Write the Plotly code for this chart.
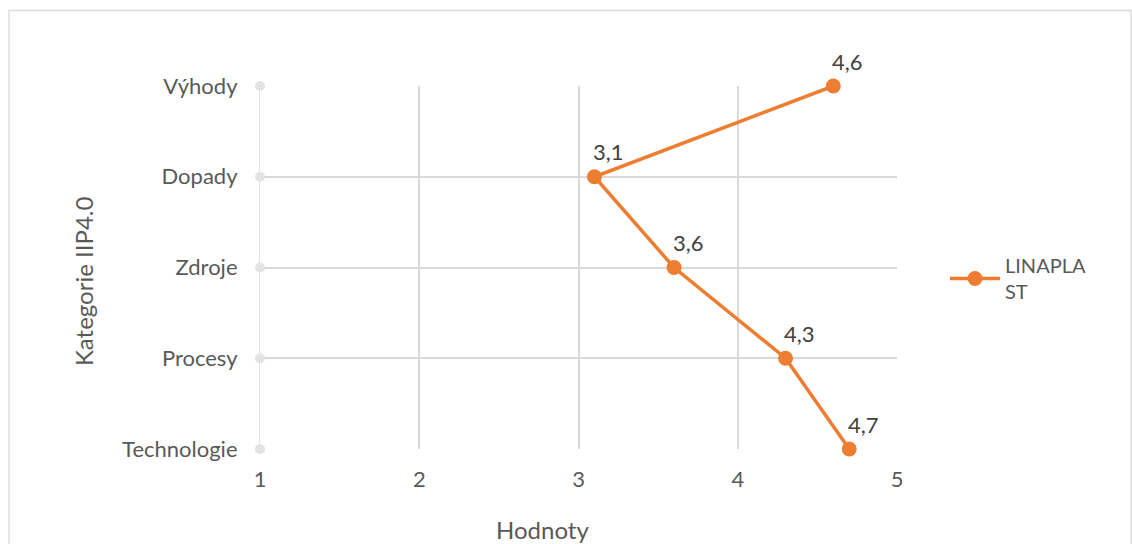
import plotly.graph_objects as go

# Categories listed from bottom to top of the y axis
categories = ["Technologie", "Procesy", "Zdroje", "Dopady", "Výhody"]
values = [4.7, 4.3, 3.6, 3.1, 4.6]
series_name = "LINAPLA<br>ST"
x_ticks = [1, 2, 3, 4, 5]
x_title = "Hodnoty"
y_title = "Kategorie IIP4.0"

W, H = 1132, 544
ml, mr, mt, mb = 260, 235, 86, 95
pw, ph = W - ml - mr, H - mt - mb

orange = "#ED7D31"
text_col = "#595959"
grid_col = "#D9D9D9"
font_family = "Lato, Carlito, Calibri, sans-serif"


def px_x(p):
    return (p - ml) / pw


def px_y(p):
    return (H - mb - p) / ph


fig = go.Figure()

# light dots where each category gridline meets the value axis start
fig.add_trace(go.Scatter(
    x=[x_ticks[0]] * len(categories), y=categories, mode="markers",
    marker=dict(size=10, color="#E3E3E3"), showlegend=False, hoverinfo="skip",
    cliponaxis=False,
))

fig.add_trace(go.Scatter(
    x=values, y=categories, mode="lines+markers", name=series_name,
    line=dict(color=orange, width=3.5),
    marker=dict(size=15, color=orange),
    cliponaxis=False,
))

for v, c in zip(values, categories):
    fig.add_annotation(
        x=v, y=c, text=f"{v:.1f}".replace(".", ","), showarrow=False,
        xshift=14, yshift=25, font=dict(size=22, color="#404040", family=font_family),
    )

# axis titles
fig.add_annotation(
    x=px_x(542), y=px_y(529), xref="paper", yref="paper", text=x_title,
    xanchor="center", yanchor="middle",
    showarrow=False, font=dict(size=24, color=text_col, family=font_family),
)
fig.add_annotation(
    x=px_x(83), y=px_y(282), xref="paper", yref="paper", text=y_title, textangle=-90,
    xanchor="center", yanchor="middle",
    showarrow=False, font=dict(size=24, color=text_col, family=font_family),
)

# outer chart border
fig.add_shape(type="rect", xref="paper", yref="paper",
              x0=px_x(9), x1=px_x(1131), y0=px_y(560), y1=px_y(10.5),
              line=dict(color="#D9D9D9", width=1.3), layer="below")

fig.update_layout(
    width=W, height=H,
    margin=dict(l=ml, r=mr, t=mt, b=mb, pad=0),
    paper_bgcolor="white", plot_bgcolor="white",
    font=dict(family=font_family, size=22, color=text_col),
    xaxis=dict(
        range=[1, 5], tickvals=x_ticks, showgrid=True, gridcolor=grid_col, gridwidth=1.8,
        zeroline=False, showline=False, ticks="", ticklabelstandoff=15,
        tickfont=dict(size=22, color=text_col), automargin=False,
        fixedrange=True,
    ),
    yaxis=dict(
        type="category", categoryorder="array", categoryarray=categories,
        range=[0, 4], showgrid=True, gridcolor=grid_col, gridwidth=1.8,
        zeroline=False, showline=True, linecolor="#E3E3E3", linewidth=1.2,
        ticks="", ticklabelstandoff=17,
        tickfont=dict(size=22, color=text_col), automargin=False,
        fixedrange=True,
    ),
    legend=dict(
        x=px_x(945), y=px_y(246), xanchor="left", yanchor="top",
        font=dict(size=20, color=text_col), bgcolor="rgba(0,0,0,0)",
        itemwidth=50,
    ),
    showlegend=True,
)

fig.write_html("out.html")
